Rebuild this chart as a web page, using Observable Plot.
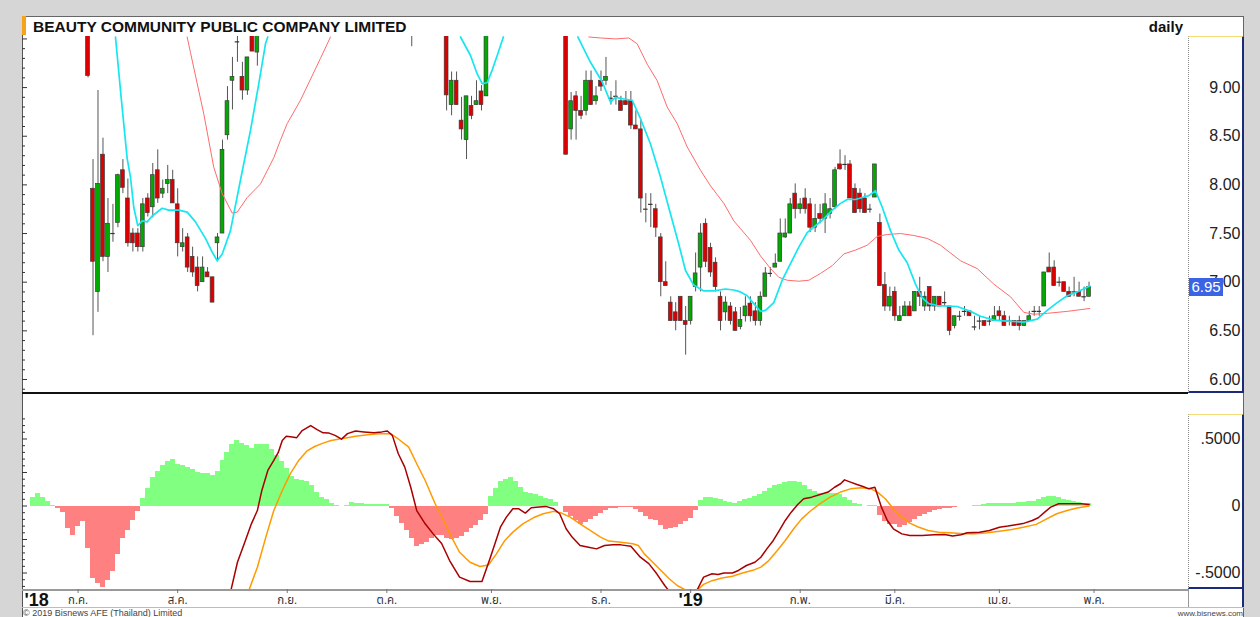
<!DOCTYPE html>
<html><head><meta charset="utf-8">
<script src="https://cdn.jsdelivr.net/npm/d3@7"></script>
<script src="https://cdn.jsdelivr.net/npm/@observablehq/plot@0.6"></script>
<style>
body{margin:0;background:#d6d6d6;}
#root{position:relative;width:1260px;height:617px;background:#d6d6d6;overflow:hidden;font-family:"Liberation Sans",Arial,sans-serif;}
.a{position:absolute;}
.a svg{display:block;}
</style></head><body><div id="root"></div>
<script>
// ---------------- DATA ----------------
const titleText = "BEAUTY COMMUNITY PUBLIC COMPANY LIMITED";
const periodText = "daily";
const lastPrice = 6.95;
// trading-day index (0 = first trading day of July 2018)
// candles: [day, open, high, low, close]
const candlesJulAug = [
[2,9.70,9.80,9.10,9.12],[3,7.96,8.26,6.45,7.21],[4,6.90,8.97,6.69,8.01],[5,8.31,8.48,7.21,7.26],
[6,7.26,7.86,7.10,7.60],[7,7.50,7.80,7.41,7.50],[8,7.61,8.11,7.56,8.10],[9,8.15,8.26,7.91,7.97],
[10,7.86,8.06,7.36,7.40],[11,7.50,7.55,7.31,7.40],[12,7.50,7.55,7.31,7.36],[13,7.36,7.86,7.31,7.80],
[14,7.86,7.91,7.67,7.71],[15,7.77,8.22,7.66,8.10],[16,8.15,8.36,7.81,7.86],[17,7.91,8.05,7.86,7.96],
[18,8.01,8.20,7.91,8.05],[19,8.05,8.15,7.81,7.81],[20,7.80,7.96,7.26,7.40],[21,7.36,7.55,7.31,7.40],
[22,7.46,7.50,7.10,7.15],[23,7.26,7.36,7.05,7.10],[24,7.15,7.26,6.90,6.96],[25,7.00,7.26,7.00,7.15],
[26,7.10,7.15,7.05,7.05],[27,7.05,7.05,6.79,6.79],[28,7.40,7.50,7.21,7.46],[29,7.50,8.46,7.50,8.36],
[30,8.51,9.01,8.46,8.86],[31,9.07,9.31,8.77,9.11],[32,9.47,9.60,9.26,9.47],[33,9.11,9.26,8.87,8.97],
[34,8.97,9.31,8.92,9.31],[35,9.60,9.70,9.37,9.37],[36,9.36,9.80,9.22,9.65]
];
const candlesOctNov = [
[67,9.60,9.70,9.42,9.62],[74,9.70,9.80,8.76,8.92],[75,8.82,9.16,8.71,9.07],[76,9.07,9.16,8.82,8.82],
[77,8.66,8.90,8.46,8.57],[78,8.46,8.91,8.26,8.91],[79,8.81,8.91,8.67,8.71],[80,8.82,9.07,8.82,8.86],
[81,8.96,9.02,8.76,8.82],[82,8.91,9.80,8.91,9.70]
];
const candlesDecFeb = [
[98,9.80,9.90,8.31,8.31],[99,8.57,8.95,8.46,8.86],[100,8.91,8.96,8.46,8.76],[101,8.76,8.91,8.67,8.71],
[102,8.76,9.17,8.71,9.07],[103,9.07,9.17,8.82,8.82],[104,8.86,9.01,8.82,8.91],[105,9.07,9.17,8.96,9.01],
[106,9.07,9.31,9.02,9.11],[107,8.89,8.96,8.82,8.89],[108,8.91,9.07,8.82,8.91],[109,8.86,8.91,8.76,8.76],
[110,8.86,8.96,8.82,8.82],[111,8.86,8.96,8.57,8.61],[112,8.61,8.76,8.57,8.57],[113,8.57,8.67,7.71,7.86],
[114,7.75,7.91,7.61,7.75],[115,7.80,7.91,7.56,7.80],[116,7.75,7.80,7.46,7.56],[117,7.46,7.50,6.85,7.00],
[118,7.00,7.21,6.96,6.96],[119,6.79,6.85,6.60,6.60],[120,6.69,6.79,6.50,6.60],[121,6.85,6.85,6.60,6.60],
[122,6.60,6.75,6.25,6.56],[123,6.60,6.85,6.56,6.85],[124,6.95,7.30,6.90,7.09],[125,7.15,7.60,6.90,7.50],
[126,7.60,7.65,7.15,7.21],[127,7.35,7.40,7.05,7.10],[128,7.20,7.25,6.90,6.95],[129,6.85,6.90,6.50,6.60],
[130,6.69,6.85,6.60,6.79],[131,6.75,6.79,6.56,6.60],[132,6.69,6.74,6.50,6.50],[133,6.54,6.74,6.51,6.61],
[134,6.65,6.85,6.59,6.75],[135,6.78,6.85,6.59,6.65],[136,6.70,6.79,6.55,6.60],[137,6.60,6.90,6.55,6.85],
[138,6.85,7.15,6.85,7.09],[139,7.09,7.15,7.05,7.09],[140,7.15,7.29,7.15,7.19],[141,7.21,7.65,7.21,7.50],
[142,7.46,7.65,7.45,7.50],[143,7.50,7.86,7.50,7.80],[144,7.91,8.01,7.65,7.75],[145,7.75,7.86,7.70,7.80],
[146,7.86,7.96,7.70,7.75],[147,7.80,7.86,7.51,7.56],[148,7.56,7.80,7.51,7.65],[149,7.70,7.80,7.60,7.65],
[150,7.65,7.91,7.50,7.80],[151,7.70,7.86,7.65,7.75],[152,7.77,8.18,7.75,8.15],[153,8.21,8.36,8.15,8.16],
[154,8.21,8.30,8.15,8.21],[155,8.21,8.25,7.86,7.86],[156,7.96,8.01,7.71,7.71],[157,7.91,7.96,7.71,7.75],
[158,7.86,7.91,7.71,7.71],[159,7.75,7.80,7.71,7.75],[160,7.87,8.21,7.87,8.21]
];
const candlesMarApr = [
[161,7.61,7.70,6.96,6.96],[162,6.97,7.10,6.70,6.75],[163,6.75,6.95,6.70,6.85],[164,6.90,6.95,6.60,6.65],
[165,6.60,6.75,6.60,6.65],[166,6.65,6.80,6.65,6.75],[167,6.75,6.80,6.65,6.65],[168,6.70,6.90,6.70,6.90],
[169,6.90,7.05,6.75,6.85],[170,6.75,6.90,6.70,6.85],[171,6.95,6.95,6.70,6.75],[172,6.75,6.85,6.70,6.85],
[173,6.85,6.85,6.75,6.75],[174,6.79,6.90,6.75,6.79],[175,6.75,6.75,6.45,6.50],[176,6.55,6.65,6.52,6.65],
[177,6.65,6.70,6.60,6.65],[178,6.70,6.75,6.65,6.70],[179,6.70,6.70,6.65,6.65],[180,6.54,6.65,6.50,6.54],
[181,6.60,6.65,6.51,6.60],[182,6.60,6.60,6.55,6.55],[183,6.60,6.65,6.55,6.60],[184,6.60,6.75,6.60,6.65],
[185,6.70,6.75,6.60,6.65],[186,6.65,6.70,6.55,6.55],[187,6.60,6.65,6.55,6.60],[188,6.60,6.60,6.55,6.55],
[189,6.60,6.65,6.50,6.55],[190,6.55,6.60,6.55,6.60],[191,6.60,6.70,6.60,6.65],[192,6.70,6.75,6.65,6.70],
[193,6.70,6.75,6.65,6.70],[194,6.75,7.10,6.75,7.10],[195,7.15,7.30,7.10,7.10],[196,7.15,7.22,6.96,6.96],
[197,7.00,7.05,6.95,7.00],[198,7.00,7.00,6.90,6.90],[199,6.90,6.95,6.85,6.85],[200,6.90,7.05,6.85,6.90],
[201,6.90,7.00,6.85,6.85],[202,6.85,6.95,6.80,6.85],[203,6.85,7.00,6.85,6.95]
];
// short moving average (cyan): [day, value]; null separates pieces that leave the top of the panel
const shortMA = [
[7.51,9.52],[8.65,8.90],[9.86,8.27],[10.52,8.08],[11.18,7.77],[11.99,7.58],[12.87,7.63],[13.88,7.62],
[14.88,7.68],[16.89,7.76],[18.21,7.74],[20.22,7.74],[21.91,7.72],[23.57,7.62],[25.58,7.45],[26.93,7.31],
[27.93,7.22],[28.94,7.29],[30.6,7.53],[32.61,8.05],[34.62,8.56],[36.29,9.04],[37.63,9.45],[38.09,9.52],
null,
[76.79,9.52],[78.8,9.33],[80.14,9.14],[81.15,9.04],[82.15,9.05],[83.15,9.18],[84.16,9.33],[85.4,9.52],
null,
[100.34,9.52],[102.89,9.26],[105.24,9.06],[106.91,8.85],[107.91,8.90],[109.92,8.88],[111.27,8.87],
[112.93,8.68],[114.94,8.42],[116.95,8.08],[118.96,7.70],[120.62,7.39],[121.97,7.12],[123.63,6.97],
[125.64,6.91],[127.65,6.91],[130.0,6.93],[131.67,6.92],[133.01,6.90],[134.36,6.86],[135.68,6.78],
[137.03,6.70],[138.03,6.71],[139.7,6.79],[141.39,7.02],[143.05,7.19],[144.72,7.36],[146.41,7.51],
[148.07,7.58],[149.74,7.65],[151.43,7.74],[153.09,7.81],[154.44,7.85],[156.1,7.85],[157.45,7.87],
[158.78,7.89],[160.12,7.94],[161.47,7.77],[163.13,7.53],[164.8,7.33],[166.49,7.20],[168.15,6.98],
[169.5,6.84],[170.82,6.78],[172.5,6.76],[176.53,6.75],[179.2,6.70],[181.21,6.65],[183.88,6.61],
[186.57,6.60],[189.9,6.59],[192.59,6.62],[194.6,6.71],[196.61,6.79],[198.61,6.86],[200.62,6.90],[203.15,6.96]
];
// long moving average (salmon)
const longMA = [
[21.9,9.52],[22.57,9.36],[25.24,8.73],[27.25,8.18],[28.94,7.91],[30.94,7.71],[31.95,7.72],[33.96,7.87],
[36.63,8.01],[39.3,8.28],[40.64,8.46],[41.99,8.63],[44.66,8.87],[48.67,9.30],[50.68,9.52],
null,
[102.55,9.52],[104.9,9.51],[108.0,9.50],[110.58,9.51],[112.27,9.45],[114.28,9.24],[116.29,9.07],
[118.29,8.80],[120.3,8.63],[122.31,8.39],[124.98,8.15],[126.99,7.99],[129.66,7.81],[131.67,7.63],
[133.01,7.55],[135.02,7.43],[137.03,7.27],[139.04,7.14],[140.7,7.05],[142.39,7.02],[144.72,7.01],
[146.73,7.02],[149.08,7.09],[151.43,7.17],[153.76,7.29],[156.1,7.33],[158.45,7.38],[160.46,7.47],
[162.47,7.49],[165.14,7.50],[167.81,7.48],[170.5,7.45],[173.17,7.38],[177.19,7.22],[180.54,7.14],
[183.88,6.98],[187.23,6.85],[189.9,6.69],[191.91,6.67],[194.6,6.68],[198.61,6.70],[203.15,6.73]
];
// MACD histogram, one value per day starting at day -9
const histStartDay = -9;
const histValues = [
0.067,0.097,0.067,0.035,0.005,-0.015,-0.05,-0.17,-0.22,-0.15,
-0.115,-0.32,-0.54,-0.575,-0.61,-0.555,-0.49,-0.36,-0.24,-0.18,
-0.107,-0.04,0.055,0.13,0.214,0.26,0.30,0.334,0.35,0.31,
0.30,0.284,0.27,0.25,0.245,0.24,0.228,0.26,0.34,0.40,
0.457,0.489,0.47,0.45,0.43,0.46,0.46,0.46,0.42,0.38,
0.33,0.28,0.22,0.20,0.19,0.18,0.155,0.104,0.065,0.045,
0.02,0.005,-0.007,0.005,0.025,0.02,0.015,0.012,0.01,0.012,
0.012,0.008,-0.02,-0.08,-0.13,-0.18,-0.24,-0.30,-0.29,-0.27,
-0.24,-0.22,-0.22,-0.245,-0.25,-0.245,-0.23,-0.20,-0.17,-0.145,
-0.11,-0.06,0.07,0.13,0.18,0.20,0.21,0.185,0.14,0.10,
0.095,0.085,0.072,0.054,0.045,0.025,-0.005,-0.045,-0.08,-0.11,
-0.135,-0.12,-0.10,-0.075,-0.055,-0.035,-0.022,-0.015,-0.012,-0.01,
-0.012,-0.028,-0.05,-0.08,-0.10,-0.11,-0.145,-0.175,-0.17,-0.16,
-0.14,-0.115,-0.09,-0.03,0.04,0.065,0.066,0.055,0.045,0.035,
0.025,0.022,0.035,0.045,0.054,0.07,0.085,0.11,0.13,0.15,
0.16,0.172,0.18,0.184,0.175,0.15,0.125,0.11,0.097,0.092,
0.092,0.09,0.085,0.065,0.04,0.02,0.008,-0.005,0.003,0.003,
-0.07,-0.115,-0.135,-0.14,-0.157,-0.145,-0.125,-0.10,-0.075,-0.06,
-0.045,-0.035,-0.028,-0.022,-0.018,-0.012,-0.007,-0.003,0,0.002,
0.006,0.012,0.016,0.02,0.022,0.022,0.021,0.022,0.024,0.026,
0.03,0.037,0.045,0.06,0.072,0.072,0.065,0.05,0.04,0.03,
0.025,0.018,0.017
];
// MACD line (dark red): [day, value]
const macdLine = [
[30.5,-0.66],[32,-0.42],[33.6,-0.257],[34.8,-0.133],[36,-0.034],[36.9,0.116],[38.1,0.265],[39.3,0.34],
[40.2,0.40],[41,0.489],[41.8,0.52],[43,0.515],[43.9,0.51],[45,0.563],[46.7,0.60],[48,0.57],[49.2,0.546],
[50.4,0.544],[51.6,0.527],[52.9,0.499],[54.1,0.54],[55.7,0.56],[57.4,0.553],[59.4,0.546],[61,0.553],
[62.1,0.56],[63.1,0.527],[64.3,0.39],[65.6,0.29],[66.8,0.14],[68,-0.034],[69.7,-0.133],[71.3,-0.208],
[73,-0.28],[74.6,-0.407],[76.6,-0.531],[78.7,-0.563],[81.1,-0.563],[82.8,-0.382],[84.8,-0.158],[86,-0.083],
[87.3,-0.021],[88.5,-0.021],[89.8,-0.053],[91,-0.013],[92.6,-0.008],[93.9,-0.003],[95.5,-0.021],[96.7,-0.058],
[98,-0.17],[99.2,-0.232],[100.8,-0.295],[102.5,-0.307],[104.1,-0.32],[105.7,-0.295],[107.4,-0.29],[109,-0.29],
[111,-0.30],[112.9,-0.382],[114.6,-0.43],[116.2,-0.506],[117.8,-0.593],[119,-0.65],[121,-0.70],[123,-0.68],
[124.4,-0.62],[125.6,-0.531],[127.3,-0.506],[128.5,-0.511],[129.7,-0.50],[131.4,-0.50],[132.6,-0.481],
[134.2,-0.444],[135.9,-0.42],[137.1,-0.382],[138.3,-0.32],[139.6,-0.257],[140.8,-0.183],[142,-0.108],
[143.2,-0.046],[144.5,0.011],[145.7,0.054],[147.3,0.066],[149,0.086],[150.6,0.104],[151.9,0.14],[153.1,0.166],
[153.9,0.195],[155.1,0.178],[156.4,0.16],[157.6,0.145],[158.8,0.128],[160,0.14],[161.3,-0.008],[162.5,-0.108],
[163.7,-0.17],[165.4,-0.208],[167,-0.22],[169.5,-0.22],[171.9,-0.215],[174,-0.213],[175.6,-0.224],[177.3,-0.215],
[178.5,-0.20],[181,-0.195],[183,-0.183],[185,-0.158],[186.7,-0.15],[188.3,-0.14],[190,-0.128],[191.6,-0.108],
[192.8,-0.088],[194.1,-0.046],[195.3,-0.008],[196.9,0.017],[198.6,0.017],[200.2,0.017],[201.4,0.017],[203,0.012]
];
// signal line (orange)
const signalLine = [
[33.8,-0.68],[36,-0.457],[37.7,-0.232],[39.3,-0.034],[41,0.116],[42.6,0.24],[44.3,0.34],[45.9,0.409],
[47.5,0.444],[49.2,0.469],[50.8,0.489],[52.5,0.50],[54.1,0.51],[55.7,0.52],[58.2,0.532],[60.7,0.54],
[62.7,0.54],[64.3,0.50],[66.4,0.439],[68,0.315],[69.7,0.19],[71.7,0.017],[73.4,-0.108],[75,-0.232],
[76.6,-0.345],[78.7,-0.42],[80.7,-0.451],[82.4,-0.44],[84,-0.357],[85.7,-0.257],[87.3,-0.195],[89.3,-0.133],
[91.4,-0.088],[93.4,-0.058],[95.5,-0.04],[97.1,-0.053],[98.8,-0.083],[100.8,-0.133],[102.9,-0.183],
[104.9,-0.232],[106.6,-0.262],[109,-0.27],[111.4,-0.282],[112.5,-0.295],[113.7,-0.357],[115.4,-0.42],
[117,-0.48],[118.7,-0.543],[120.3,-0.593],[121.9,-0.625],[123,-0.65],[124.3,-0.63],[125.6,-0.585],
[127.3,-0.557],[129.3,-0.537],[131.4,-0.524],[133.4,-0.50],[135.5,-0.48],[137.1,-0.456],[138.7,-0.407],
[140.4,-0.332],[142,-0.257],[143.7,-0.17],[145.3,-0.096],[147,-0.039],[149,0.017],[151,0.066],[153.1,0.104],
[155.1,0.128],[157.2,0.136],[159.2,0.128],[160.5,0.104],[162.1,0.054],[163.7,-0.021],[165.4,-0.083],
[167,-0.128],[168.7,-0.157],[170.7,-0.183],[172.8,-0.195],[175.2,-0.20],[177.7,-0.207],[180.1,-0.207],
[182.6,-0.20],[185,-0.188],[187.5,-0.175],[190,-0.157],[192.4,-0.137],[194.5,-0.096],[196.5,-0.058],
[198.6,-0.033],[200.6,-0.015],[203,0]
];
// axis ticks
const priceTicks = [6.0, 6.5, 7.0, 7.5, 8.0, 8.5, 9.0];
const macdTicks = [0.5, 0, -0.5];
const macdTickLabels = [".5000", "0", "-.5000"];
const monthDays = [0, 20, 42, 62, 83, 105, 123, 145, 164, 185, 204];
const monthLabels = ["ก.ค.","ส.ค.","ก.ย.","ต.ค.","พ.ย.","ธ.ค.","'19","ก.พ.","มี.ค.","เม.ย.","พ.ค."];
const yearLabel = "'18";
const copyrightText = "© 2019 Bisnews AFE (Thailand) Limited";
const siteText = "www.bisnews.com";

// ---------------- LAYOUT ----------------
const root = document.getElementById("root");
const FONT = '"Liberation Sans", Arial, sans-serif';
const THAI = '"Noto Sans Thai","Loma","Garuda","Norasi","Tlwg Typo","Waree","DejaVu Sans","Liberation Sans",sans-serif';
function box(l, t, w, h, css) {
  const d = document.createElement("div");
  d.className = "a";
  d.style.cssText = `left:${l}px;top:${t}px;width:${w}px;height:${h}px;` + (css || "");
  root.appendChild(d);
  return d;
}
// white sheet + frame
box(22, 16, 1222, 601, "background:#fff;border-left:1px solid #555;border-top:1px solid #666;border-right:1px solid #666;box-sizing:border-box;");
box(22, 16, 4, 19, "background:#f7a21b;");
const t1 = box(33, 17, 600, 19, `font:bold 15.5px ${FONT};color:#111;line-height:19px;white-space:nowrap;`);
t1.textContent = titleText;
const t2 = box(1100, 17, 83, 19, `font:bold 15px ${FONT};color:#111;line-height:19px;text-align:right;`);
t2.textContent = periodText;

const X_DOMAIN = [-11.16, 222.97];
const Y_PRICE = [5.856, 9.525];
const PLOT_W = 1221, FRAME_W = 1166;
const pxPerDay = FRAME_W / (X_DOMAIN[1] - X_DOMAIN[0]);

function toCandles(rows) { return rows.map(r => ({i: r[0], o: r[1], h: r[2], l: r[3], c: r[4]})); }
const candles = [candlesJulAug, candlesOctNov, candlesDecFeb, candlesMarApr].flatMap(toCandles);
function toLine(rows) { return rows.map(r => r ? {i: r[0], v: r[1]} : {i: NaN, v: NaN}); }

// right-axis boxes
box(1188, 36, 56, 357, "border-top:1px solid #f3dc7a;border-left:1px dotted #8a8a8a;border-right:2px solid #1b2a7a;border-bottom:2px solid #1b2a7a;box-sizing:border-box;");
box(1188, 414, 56, 175, "border-top:1px solid #f3dc7a;border-left:1px dotted #8a8a8a;border-right:2px solid #1b2a7a;border-bottom:2px solid #1b2a7a;box-sizing:border-box;");
box(1188, 589, 56, 19, "border-left:1px solid #999;border-right:2px solid #1b2a7a;box-sizing:border-box;");

// -------- price panel --------
const leftMinor = d3.range(5.9, 9.55, 0.1).map(v => +v.toFixed(2));
const price = Plot.plot({
  width: PLOT_W, height: 357,
  marginLeft: 0, marginRight: PLOT_W - FRAME_W, marginTop: 0, marginBottom: 0,
  x: {domain: X_DOMAIN, axis: null},
  y: {domain: Y_PRICE, axis: null},
  style: {background: "transparent", fontFamily: FONT, overflow: "visible"},
  marks: [
    Plot.ruleY(leftMinor, {y: d => d, x1: X_DOMAIN[0], x2: d => X_DOMAIN[0] + (Math.abs(d * 2 - Math.round(d * 2)) < 0.01 ? 5 : 3) / pxPerDay, stroke: "#333", strokeWidth: 1}),
    Plot.ruleX(candles, {x: "i", y1: "l", y2: "h", stroke: "#555", strokeWidth: 1, clip: true}),
    Plot.rect(candles.filter(d => d.o !== d.c), {
      x1: d => d.i - 0.38, x2: d => d.i + 0.38, y1: "o", y2: "c",
      fill: d => d.c > d.o ? "#00aa00" : "#dd0000", stroke: "#3a3a3a", strokeWidth: 0.7, clip: true}),
    Plot.ruleY(candles.filter(d => d.o === d.c), {y: "o", x1: d => d.i - 0.45, x2: d => d.i + 0.45, stroke: "#333", strokeWidth: 1.2, clip: true}),
    Plot.line(toLine(longMA), {x: "i", y: "v", stroke: "#ff6b6b", strokeWidth: 1, clip: true}),
    Plot.line(toLine(shortMA), {x: "i", y: "v", stroke: "#16e6ef", strokeWidth: 1.7, clip: true}),
    Plot.text(priceTicks, {y: d => d, text: d => d.toFixed(2), frameAnchor: "right", dx: 52, textAnchor: "end", fontSize: 16, fill: "#222"})
  ]
});
box(22, 36, PLOT_W, 357, "").appendChild(price);
// last-price tag (blue box with white text, on top of the axis labels)
const yLast = 36 + (Y_PRICE[1] - lastPrice) / (Y_PRICE[1] - Y_PRICE[0]) * 357;
const tag = box(1189, Math.round(yLast - 9), 34, 18, `background:#3a63e6;color:#fff;font:15px ${FONT};line-height:18px;text-align:center;`);
tag.textContent = lastPrice.toFixed(2);

// separator between panels
box(22, 392, 1166, 2, "background:#111;");

// -------- MACD panel --------
const hist = histValues.map((v, k) => ({i: histStartDay + k, v}));
const macdMinor = d3.range(-0.6, 0.66, 0.05).map(v => +v.toFixed(2));
const macd = Plot.plot({
  width: PLOT_W, height: 193,
  marginLeft: 0, marginRight: PLOT_W - FRAME_W, marginTop: 0, marginBottom: 0,
  x: {domain: X_DOMAIN, axis: null},
  y: {domain: [-0.623, 0.817], axis: null},
  style: {background: "transparent", fontFamily: FONT, overflow: "visible"},
  marks: [
    Plot.rect(hist, {x1: d => d.i - 0.5, x2: d => d.i + 0.5, y1: 0, y2: "v",
      fill: d => d.v >= 0 ? "#80ff80" : "#ff8080", shapeRendering: "crispEdges", clip: true}),
    Plot.ruleY(macdMinor, {y: d => d, x1: X_DOMAIN[0], x2: d => X_DOMAIN[0] + (Math.abs(d * 4 - Math.round(d * 4)) < 0.01 ? 5 : 3) / pxPerDay, stroke: "#333", strokeWidth: 1}),
    Plot.line(toLine(signalLine), {x: "i", y: "v", stroke: "#ff9a00", strokeWidth: 1.5, clip: true}),
    Plot.line(toLine(macdLine), {x: "i", y: "v", stroke: "#a80000", strokeWidth: 1.5, clip: true}),
    Plot.text(macdTicks, {y: d => d, text: (d, k) => macdTickLabels[k], frameAnchor: "right", dx: 52, textAnchor: "end", fontSize: 16, fill: "#222"})
  ]
});
box(22, 396, PLOT_W, 193, "").appendChild(macd);

// -------- time axis --------
box(22, 589, 1166, 2, "background:#9a9a9a;");
box(22, 607, 1222, 1, "background:#bdbdbd;");
const axis = Plot.plot({
  width: PLOT_W, height: 19,
  marginLeft: 0, marginRight: PLOT_W - FRAME_W, marginTop: 0, marginBottom: 0,
  x: {domain: X_DOMAIN, axis: null},
  y: {domain: [0, 19], range: [0, 19], axis: null},
  style: {background: "transparent", overflow: "visible"},
  marks: [
    Plot.ruleX(monthDays, {x: d => d, y1: 0, y2: 4, stroke: "#777"}),
    Plot.text(monthDays.filter((d, k) => monthLabels[k][0] !== "'"), {x: d => d, y: 11,
      text: d => monthLabels[monthDays.indexOf(d)], fontSize: 11.5, fill: "#333", fontFamily: THAI}),
    Plot.text(monthDays.filter((d, k) => monthLabels[k][0] === "'"), {x: d => d, y: 11,
      text: d => monthLabels[monthDays.indexOf(d)], fontSize: 18, fontWeight: "bold", fill: "#111", fontFamily: FONT}),
    Plot.text([yearLabel], {frameAnchor: "left", y: 11, dx: 2, textAnchor: "start", text: d => d, fontSize: 18, fontWeight: "bold", fill: "#111", fontFamily: FONT})
  ]
});
box(22, 589, PLOT_W, 19, "").appendChild(axis);

const c1 = box(23, 608, 400, 9, `font:9px ${FONT};color:#444;line-height:10px;white-space:nowrap;`);
c1.textContent = copyrightText;
const c2 = box(1043, 609, 200, 8, `font:8px ${FONT};color:#444;line-height:9px;text-align:right;`);
c2.textContent = siteText;
</script></body></html>
